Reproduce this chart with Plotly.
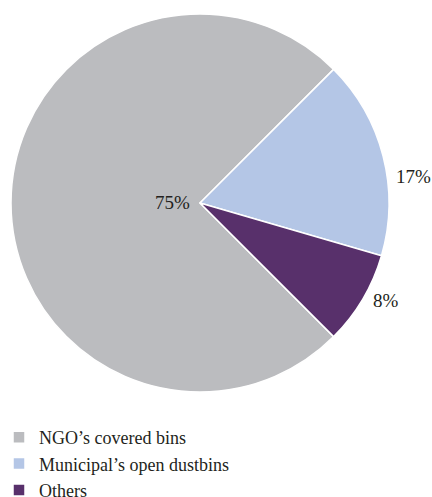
import plotly.graph_objects as go

labels = ["NGO\u2019s covered bins", "Municipal\u2019s open dustbins", "Others"]
values = [75, 17, 8]
colors = ["#BBBCBF", "#B4C6E6", "#58306B"]

W, H = 432, 497
cx, cy, r = 200, 203, 189
# label anchor positions (pixels) for each slice's percentage text
label_px = [(172, 202), (413, 176), (386, 300)]

FONT = "Liberation Serif"
TXT = "#231F20"

fig = go.Figure(go.Pie(
    labels=labels,
    values=values,
    sort=False,
    direction="clockwise",
    rotation=135,
    marker=dict(colors=colors, line=dict(color="white", width=1.5)),
    textinfo="none",
    hoverinfo="label+percent",
    domain=dict(x=[(cx - r) / W, (cx + r) / W], y=[1 - (cy + r) / H, 1 - (cy - r) / H]),
))

total = sum(values)
for v, (px, py) in zip(values, label_px):
    fig.add_annotation(
        x=px / W, y=1 - py / H, xref="paper", yref="paper",
        text=f"{round(100 * v / total)}%", showarrow=False,
        xanchor="center", yanchor="middle",
        font=dict(family=FONT, size=19, color=TXT),
    )

fig.update_layout(
    width=W, height=H,
    margin=dict(l=0, r=0, t=0, b=0, autoexpand=False),
    paper_bgcolor="white",
    showlegend=True,
    legend=dict(x=-1 / W, y=1 - 419 / H, xanchor="left", yanchor="top",
                font=dict(family=FONT, size=18, color=TXT),
                bgcolor="rgba(0,0,0,0)", tracegroupgap=0),
)

fig.write_html("out.html", config={"displayModeBar": False},
               post_script="document.body.style.margin='0';")
